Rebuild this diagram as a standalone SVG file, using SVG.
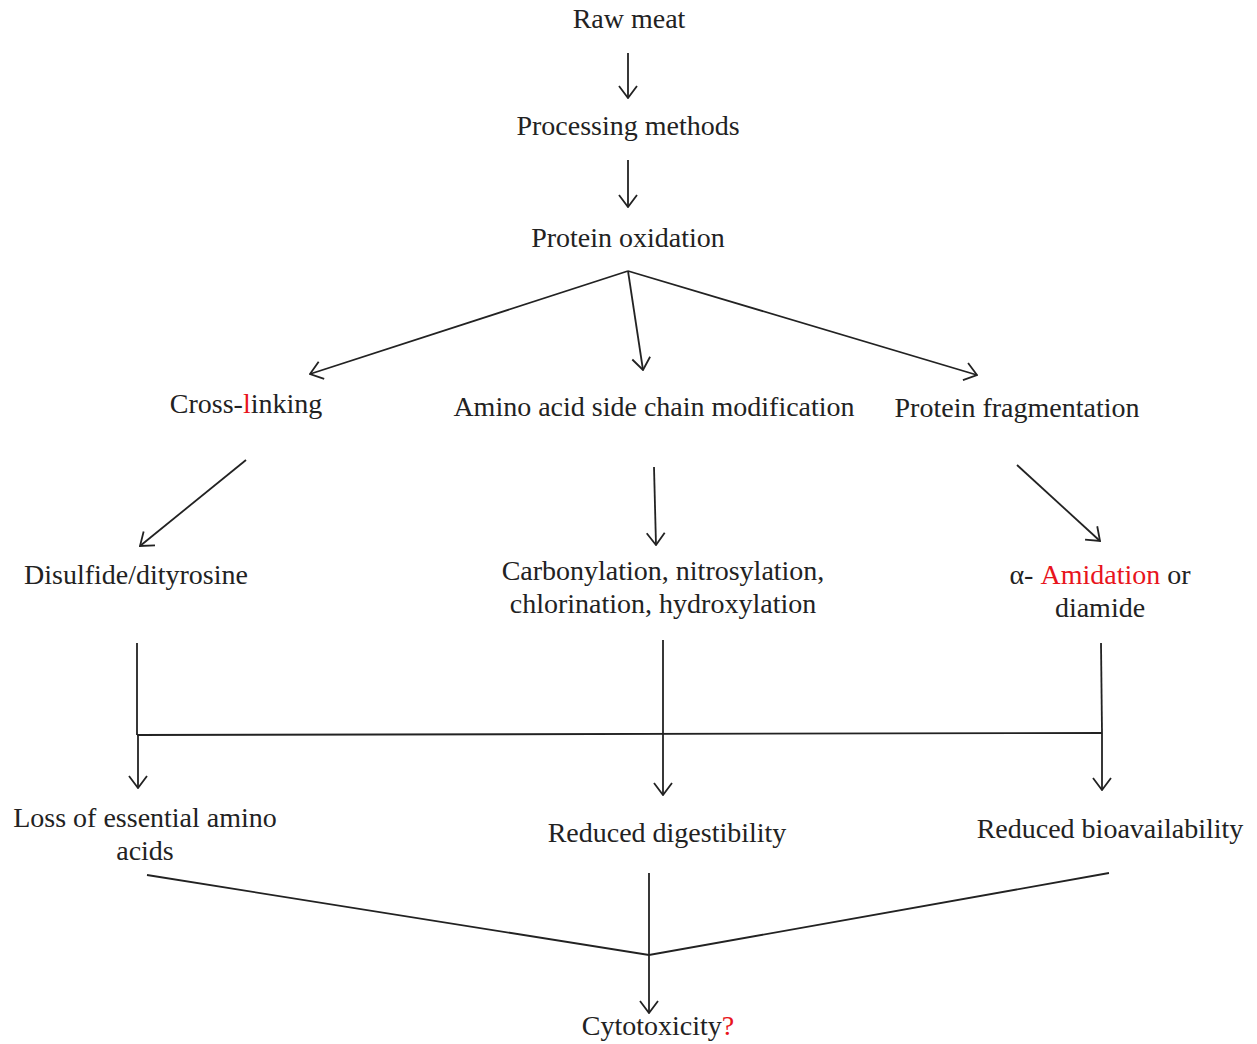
<svg xmlns="http://www.w3.org/2000/svg" width="1257" height="1044" viewBox="0 0 1257 1044">
<style>
text{font-family:"Liberation Serif","Times New Roman",serif;font-size:28px;fill:#222;text-anchor:middle}
.r{fill:#e8141c}
.c line,.c polyline{stroke:#222;stroke-width:1.8;fill:none}
</style>
<defs>
<marker id="a" viewBox="0 0 14 20" refX="13" refY="10" markerWidth="14" markerHeight="20" markerUnits="userSpaceOnUse" orient="auto">
<path d="M1,1 L13,10 L1,19" fill="none" stroke="#222" stroke-width="1.8"/>
</marker>
</defs>
<rect width="1257" height="1044" fill="#fff"/>
<g id="n1"><text x="629" y="28">Raw meat</text></g>
<g id="n2"><text x="628" y="135">Processing methods</text></g>
<g id="n3"><text x="628" y="247">Protein oxidation</text></g>
<g id="n4"><text x="246" y="413">Cross-<tspan class="r">l</tspan>inking</text></g>
<g id="n5"><text x="654" y="416">Amino acid side chain modification</text></g>
<g id="n6"><text x="1017" y="417">Protein fragmentation</text></g>
<g id="n7"><text x="136" y="584">Disulfide/dityrosine</text></g>
<g id="n8"><text x="663" y="580">Carbonylation, nitrosylation,</text><text x="663" y="613">chlorination, hydroxylation</text></g>
<g id="n9"><text x="1100" y="584">α- <tspan class="r">Amidation</tspan> or</text><text x="1100" y="617">diamide</text></g>
<g id="n10"><text x="145" y="827">Loss of essential amino</text><text x="145" y="860">acids</text></g>
<g id="n11"><text x="667" y="842">Reduced digestibility</text></g>
<g id="n12"><text x="1110" y="838">Reduced bioavailability</text></g>
<g id="n13"><text x="658" y="1035">Cytotoxicity<tspan class="r">?</tspan></text></g>
<g id="connectors" class="c">
<line x1="628" y1="53" x2="628" y2="98" marker-end="url(#a)"/>
<line x1="628" y1="160" x2="628" y2="207" marker-end="url(#a)"/>
<line x1="628" y1="271" x2="310" y2="374" marker-end="url(#a)"/>
<line x1="628" y1="271" x2="643" y2="370" marker-end="url(#a)"/>
<line x1="628" y1="271" x2="977" y2="375" marker-end="url(#a)"/>
<line x1="246" y1="460" x2="140" y2="546" marker-end="url(#a)"/>
<line x1="654" y1="467" x2="656" y2="545" marker-end="url(#a)"/>
<line x1="1017" y1="465" x2="1100" y2="541" marker-end="url(#a)"/>
<line x1="137" y1="643" x2="137" y2="735"/>
<line x1="1101" y1="643" x2="1102" y2="733"/>
<line x1="137" y1="735" x2="1102" y2="733"/>
<line x1="138" y1="735" x2="138" y2="788" marker-end="url(#a)"/>
<line x1="663" y1="640" x2="663" y2="795" marker-end="url(#a)"/>
<line x1="1102" y1="733" x2="1102" y2="790" marker-end="url(#a)"/>
<polyline points="147,875 649,955 1109,873"/>
<line x1="649" y1="873" x2="649" y2="1013" marker-end="url(#a)"/>
</g>
</svg>
